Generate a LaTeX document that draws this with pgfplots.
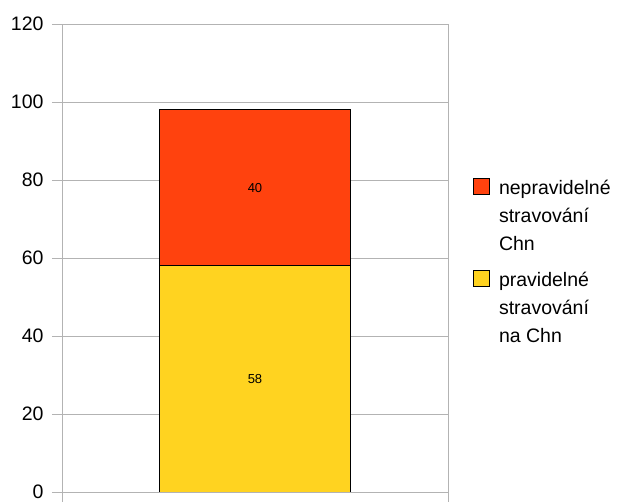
\documentclass[border=0pt]{standalone}
\usepackage{fontspec}
\setmainfont{Liberation Sans}
\usepackage{pgfplots}
\pgfplotsset{compat=1.18}
\definecolor{serA}{HTML}{FFD320}
\definecolor{serB}{HTML}{FF420E}
\definecolor{gridc}{HTML}{B3B3B3}

\begin{document}
\begin{tikzpicture}
\begin{axis}[
  at={(0pt,0pt)}, anchor=south west,
  scale only axis, width=386pt, height=468pt,
  ybar stacked, bar width=0.495,
  xmin=0.5, xmax=1.5, ymin=0, ymax=120,
  ytick={0,20,...,120},
  xtick={0.5,1.5}, xticklabels={},
  ymajorgrids, major grid style={gridc, line width=0.8pt},
  axis line style={gridc, line width=0.8pt},
  tick style={gridc, line width=0.8pt},
  tick align=outside, major tick length=10pt,
  xtick pos=bottom, ytick pos=left,
  /pgf/number format/assume math mode=true,
  yticklabel style={font=\fontsize{19.5}{23}\selectfont, text=black, xshift=-5pt},
  point meta=explicit,
  nodes near coords,
  every node near coord/.append style={font=\fontsize{13}{15}\selectfont, text=black, anchor=center},
  reverse legend,
  % swatch sits level with the first of the three text lines
  legend image code/.code={\draw[#1, draw=black, line width=0.8pt] (0pt,56pt) rectangle (16pt,72pt);},
  legend style={at={(rel axis cs:1.0648,0.671)}, anchor=north west, draw=none, fill=none,
    inner sep=0pt, row sep=16pt, column sep=7pt, font=\fontsize{19.5}{28}\selectfont,
    nodes={align=left, anchor=base west}},
]
% regular meals at the bottom of the stack
\addplot+[fill=serA, draw=black, line width=0.8pt]
  coordinates {(1,58) [58]};
% irregular meals stacked on top
\addplot+[fill=serB, draw=black, line width=0.8pt]
  coordinates {(1,40) [40]};
\addlegendentry{pravidelné\\stravování\\na Chn}
\addlegendentry{nepravidelné\\stravování\\Chn}
\end{axis}
\pgfresetboundingbox
\path (-62pt,-10pt) rectangle (560pt,492pt);
\end{tikzpicture}
\end{document}
